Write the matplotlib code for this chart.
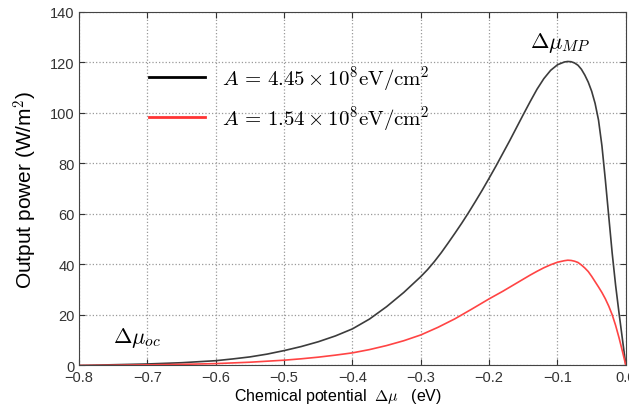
import matplotlib
matplotlib.use("Agg")
import matplotlib.pyplot as plt

plt.rcParams['font.family'] = ['Liberation Sans', 'DejaVu Sans']
plt.rcParams['mathtext.fontset'] = 'cm'

# output power vs chemical potential, two illumination levels
mu_high = [-0.8, -0.775, -0.75, -0.725, -0.7, -0.675, -0.65, -0.625, -0.6,
           -0.575, -0.55, -0.525, -0.5, -0.475, -0.45, -0.425, -0.4, -0.375,
           -0.35, -0.325, -0.3, -0.29, -0.28, -0.27, -0.26, -0.25, -0.24,
           -0.23, -0.22, -0.21, -0.2, -0.19, -0.18, -0.17, -0.16, -0.15,
           -0.14, -0.13, -0.12, -0.11, -0.1, -0.09, -0.085, -0.08, -0.075,
           -0.07, -0.065, -0.06, -0.055, -0.05, -0.045, -0.04, -0.035, -0.03,
           -0.025, -0.02, -0.015, -0.01, -0.005, 0.0]
p_high = [0.0, 0.15, 0.3, 0.45, 0.6, 0.85, 1.1, 1.5, 1.9,
          2.6, 3.4, 4.5, 5.9, 7.5, 9.4, 11.7, 14.5, 18.4,
          23.3, 28.9, 35.2, 38.0, 41.2, 44.7, 48.5, 52.4, 56.4,
          60.6, 65.0, 69.5, 74.2, 79.0, 84.0, 89.0, 94.2, 99.4,
          104.5, 109.4, 113.6, 116.9, 119.1, 120.2, 120.4, 120.3, 119.8,
          118.9, 117.3, 115.0, 112.2, 108.6, 103.8, 97.2, 87.0, 73.5,
          59.0, 44.5, 31.8, 20.8, 10.4, 0.0]

mu_low = [-0.8, -0.75, -0.7, -0.65, -0.6, -0.55, -0.5, -0.475, -0.45, -0.425,
          -0.4, -0.375, -0.35, -0.325, -0.3, -0.275, -0.25, -0.225, -0.2,
          -0.19, -0.18, -0.17, -0.16, -0.15, -0.14, -0.13, -0.12, -0.11,
          -0.1, -0.09, -0.085, -0.08, -0.075, -0.07, -0.065, -0.06, -0.055,
          -0.05, -0.045, -0.04, -0.035, -0.03, -0.025, -0.02, -0.015, -0.01,
          -0.005, 0.0]
p_low = [0.0, 0.1, 0.25, 0.45, 0.75, 1.3, 2.1, 2.65, 3.3, 4.1,
         5.0, 6.3, 7.9, 9.8, 12.1, 15.1, 18.5, 22.4, 26.4,
         27.9, 29.4, 31.0, 32.6, 34.2, 35.8, 37.3, 38.7, 39.9,
         40.9, 41.5, 41.7, 41.6, 41.3, 40.8, 39.8, 38.6, 37.2,
         35.3, 33.2, 31.1, 28.9, 26.4, 23.5, 20.1, 15.9, 11.0,
         5.6, 0.0]

labels = [r'$A\,=\,4.45\times10^{8}\mathrm{eV/cm^2}$',
          r'$A\,=\,1.54\times10^{8}\mathrm{eV/cm^2}$']

fig = plt.figure(figsize=(6.29, 4.06), dpi=100)
ax = fig.add_axes([0.1256, 0.0973, 0.8694, 0.8707])

ax.plot(mu_high, p_high, color='#3c3c3c', lw=1.2, label=labels[0])
ax.plot(mu_low, p_low, color='#ff4444', lw=1.2, label=labels[1])

ax.set_xlim(-0.8, 0.0)
ax.set_ylim(0, 140)
ax.set_xticks([-0.8, -0.7, -0.6, -0.5, -0.4, -0.3, -0.2, -0.1, 0.0])
ax.set_xticklabels(['\u22120.8', '\u22120.7', '\u22120.6', '\u22120.5', '\u22120.4',
                    '\u22120.3', '\u22120.2', '\u22120.1', '0.0'])
ax.set_yticks(range(0, 141, 20))
ax.tick_params(direction='in', top=True, right=True, length=4,
               labelsize=10.5, colors='#333333', pad=3)
for s in ax.spines.values():
    s.set_color('#444444')
ax.grid(True, linestyle=':', color='#999999', lw=0.9)

ax.set_xlabel(r'Chemical potential  $\Delta\mu$   (eV)', fontsize=11.5)
ax.xaxis.set_label_coords(0.4735, -0.058)
ax.set_ylabel(r'Output power (W/m$^2$)', fontsize=15, labelpad=7)

ax.text(-0.140, 128, r'$\Delta\mu_{MP}$', fontsize=16, ha='left', va='center')
ax.text(-0.750, 11.3, r'$\Delta\mu_{oc}$', fontsize=16, ha='left', va='center')

leg = ax.legend(loc='upper left', bbox_to_anchor=(0.093, 0.907), frameon=False,
                fontsize=15, handlelength=2.7, handletextpad=0.8,
                labelspacing=0.5)
for h, c in zip(leg.legend_handles, ['#000000', '#ff3333']):
    h.set_color(c)
    h.set_linewidth(2.0)

fig.savefig('out.png', dpi=100)
